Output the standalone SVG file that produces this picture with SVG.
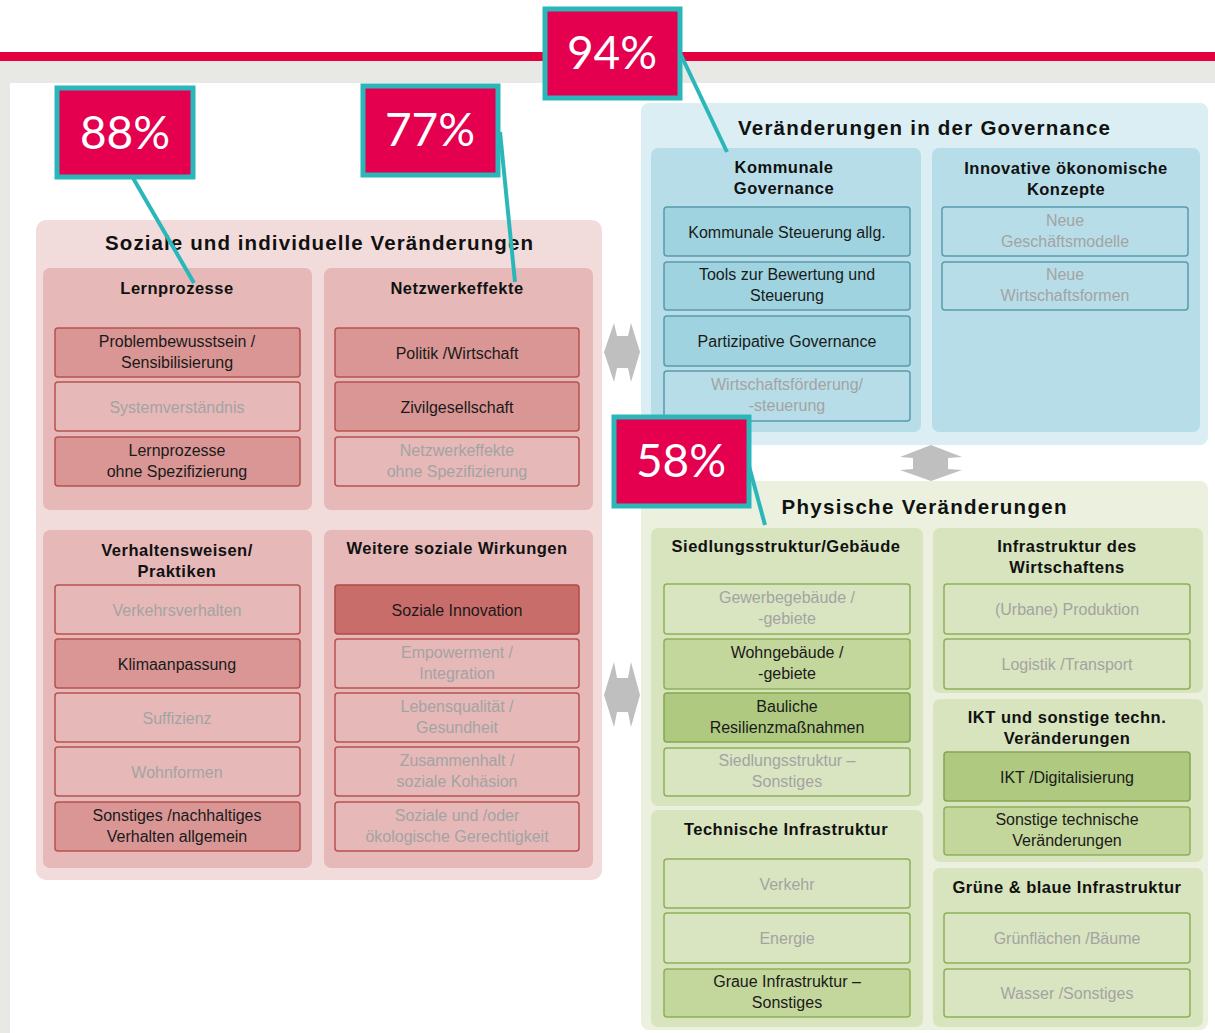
<svg xmlns="http://www.w3.org/2000/svg" width="1215" height="1033" viewBox="0 0 1215 1033">
<defs>
<style>
text{font-family:"Liberation Sans",Arial,sans-serif;text-anchor:middle}
.t1{font-size:20.5px;font-weight:bold;fill:#111}
.t2{font-size:16.5px;font-weight:bold;fill:#111;letter-spacing:0.5px}
.bt{font-size:16px;fill:#1a1a1a}
.ft{font-size:16px;fill:#a3a3a3}
.pct{font-family:Lato,"Open Sans",sans-serif;font-size:46px;fill:#fff}
.rOut{fill:#f2dcdb}
.rSub{fill:#e6b9b8}
.rF{fill:#e6b9b8;stroke:#b8524f;stroke-width:1.5}
.rM{fill:#d99694;stroke:#b8524f;stroke-width:1.5}
.rD{fill:#c96d6a;stroke:#b04a47;stroke-width:1.5}
.bOut{fill:#daeef3}
.bSub{fill:#b7dee8}
.bF{fill:#b7dee8;stroke:#5a9aad;stroke-width:1.5}
.bM{fill:#9fd3df;stroke:#5a9aad;stroke-width:1.5}
.gOut{fill:#ebf1de}
.gSub{fill:#d7e4bd}
.gF{fill:#d9e5c0;stroke:#8fb05a;stroke-width:1.5}
.gM{fill:#c3d69b;stroke:#8fb05a;stroke-width:1.5}
.gD{fill:#afca80;stroke:#84a650;stroke-width:1.5}
.call{fill:#e4004f;stroke:#2bb7ba;stroke-width:5}
.cl{stroke:#2bb7ba;stroke-width:4;fill:none}
.arr{fill:#bfbfbf}
</style>
</defs>
<rect x="0" y="0" width="1215" height="1033" fill="#ffffff"/>
<rect x="0" y="52" width="1215" height="9" fill="#e2003f"/>
<rect x="0" y="61" width="1215" height="22" fill="#e8e8e4"/>
<rect x="0" y="61" width="10" height="972" fill="#e8e8e4"/>

<g id="panel-sozial">
<rect class="rOut" x="36" y="220" width="566" height="660" rx="10"/>
<text class="t1" x="319" y="250" textLength="428" lengthAdjust="spacing">Soziale und individuelle Veränderungen</text>
</g>
<g id="panel-governance">
<rect class="bOut" x="641" y="103" width="567" height="342" rx="8"/>
<text class="t1" x="924" y="135" textLength="372" lengthAdjust="spacing">Veränderungen in der Governance</text>
</g>
<g id="panel-physisch">
<rect class="gOut" x="641" y="481" width="567" height="549" rx="8"/>
<text class="t1" x="924" y="514" textLength="285" lengthAdjust="spacing">Physische Veränderungen</text>
</g>

<g id="sub-lernprozesse">
<rect class="rSub" x="43" y="268" width="269" height="242" rx="7"/>
<text class="t2" x="177" y="294">Lernprozesse</text>
<rect class="rM" x="55" y="328" width="245" height="49" rx="3"/>
<text class="bt" x="177" y="346.5">Problembewusstsein /</text>
<text class="bt" x="177" y="367.5">Sensibilisierung</text>
<rect class="rF" x="55" y="382" width="245" height="49" rx="3"/>
<text class="ft" x="177" y="412.5">Systemverständnis</text>
<rect class="rM" x="55" y="437" width="245" height="49" rx="3"/>
<text class="bt" x="177" y="455.5">Lernprozesse</text>
<text class="bt" x="177" y="476.5">ohne Spezifizierung</text>
</g>

<g id="sub-netzwerkeffekte">
<rect class="rSub" x="324" y="268" width="269" height="242" rx="7"/>
<text class="t2" x="457" y="294">Netzwerkeffekte</text>
<rect class="rM" x="335" y="328" width="244" height="49" rx="3"/>
<text class="bt" x="457" y="358.5">Politik /Wirtschaft</text>
<rect class="rM" x="335" y="382" width="244" height="49" rx="3"/>
<text class="bt" x="457" y="412.5">Zivilgesellschaft</text>
<rect class="rF" x="335" y="437" width="244" height="49" rx="3"/>
<text class="ft" x="457" y="455.5">Netzwerkeffekte</text>
<text class="ft" x="457" y="476.5">ohne Spezifizierung</text>
</g>

<g id="sub-verhalten">
<rect class="rSub" x="43" y="530" width="269" height="338" rx="7"/>
<text class="t2" x="177" y="556">Verhaltensweisen/</text>
<text class="t2" x="177" y="577">Praktiken</text>
<rect class="rF" x="55" y="585" width="245" height="49" rx="3"/>
<text class="ft" x="177" y="615.5">Verkehrsverhalten</text>
<rect class="rM" x="55" y="639" width="245" height="49" rx="3"/>
<text class="bt" x="177" y="669.5">Klimaanpassung</text>
<rect class="rF" x="55" y="693" width="245" height="49" rx="3"/>
<text class="ft" x="177" y="723.5">Suffizienz</text>
<rect class="rF" x="55" y="747" width="245" height="49" rx="3"/>
<text class="ft" x="177" y="777.5">Wohnformen</text>
<rect class="rM" x="55" y="802" width="245" height="49" rx="3"/>
<text class="bt" x="177" y="820.5">Sonstiges /nachhaltiges</text>
<text class="bt" x="177" y="841.5">Verhalten allgemein</text>
</g>

<g id="sub-weitere">
<rect class="rSub" x="324" y="530" width="269" height="338" rx="7"/>
<text class="t2" x="457" y="554">Weitere soziale Wirkungen</text>
<rect class="rD" x="335" y="585" width="244" height="49" rx="3"/>
<text class="bt" x="457" y="615.5">Soziale Innovation</text>
<rect class="rF" x="335" y="639" width="244" height="49" rx="3"/>
<text class="ft" x="457" y="657.5">Empowerment /</text>
<text class="ft" x="457" y="678.5">Integration</text>
<rect class="rF" x="335" y="693" width="244" height="49" rx="3"/>
<text class="ft" x="457" y="711.5">Lebensqualität /</text>
<text class="ft" x="457" y="732.5">Gesundheit</text>
<rect class="rF" x="335" y="747" width="244" height="49" rx="3"/>
<text class="ft" x="457" y="765.5">Zusammenhalt /</text>
<text class="ft" x="457" y="786.5">soziale Kohäsion</text>
<rect class="rF" x="335" y="802" width="244" height="49" rx="3"/>
<text class="ft" x="457" y="820.5">Soziale und /oder</text>
<text class="ft" x="457" y="841.5">ökologische Gerechtigkeit</text>
</g>

<g id="sub-kommunale">
<rect class="bSub" x="651" y="148" width="270" height="284" rx="7"/>
<text class="t2" x="784" y="173">Kommunale</text>
<text class="t2" x="784" y="194">Governance</text>
<rect class="bM" x="664" y="207" width="246" height="49" rx="3"/>
<text class="bt" x="787" y="237.5">Kommunale Steuerung allg.</text>
<rect class="bM" x="664" y="262" width="246" height="48" rx="3"/>
<text class="bt" x="787" y="280">Tools zur Bewertung und</text>
<text class="bt" x="787" y="301">Steuerung</text>
<rect class="bM" x="664" y="316" width="246" height="50" rx="3"/>
<text class="bt" x="787" y="347">Partizipative Governance</text>
<rect class="bF" x="664" y="371" width="246" height="50" rx="3"/>
<text class="ft" x="787" y="390">Wirtschaftsförderung/</text>
<text class="ft" x="787" y="411">-steuerung</text>
</g>

<g id="sub-innovative">
<rect class="bSub" x="932" y="148" width="268" height="284" rx="7"/>
<text class="t2" x="1066" y="174">Innovative ökonomische</text>
<text class="t2" x="1066" y="195">Konzepte</text>
<rect class="bF" x="942" y="207" width="246" height="49" rx="3"/>
<text class="ft" x="1065" y="225.5">Neue</text>
<text class="ft" x="1065" y="246.5">Geschäftsmodelle</text>
<rect class="bF" x="942" y="262" width="246" height="48" rx="3"/>
<text class="ft" x="1065" y="280">Neue</text>
<text class="ft" x="1065" y="301">Wirtschaftsformen</text>
</g>

<g id="sub-siedlung">
<rect class="gSub" x="651" y="528" width="272" height="278" rx="7"/>
<text class="t2" x="786" y="552">Siedlungsstruktur/Gebäude</text>
<rect class="gF" x="664" y="584" width="246" height="50" rx="3"/>
<text class="ft" x="787" y="603">Gewerbegebäude /</text>
<text class="ft" x="787" y="624">-gebiete</text>
<rect class="gM" x="664" y="639" width="246" height="50" rx="3"/>
<text class="bt" x="787" y="658">Wohngebäude /</text>
<text class="bt" x="787" y="679">-gebiete</text>
<rect class="gD" x="664" y="693" width="246" height="49" rx="3"/>
<text class="bt" x="787" y="711.5">Bauliche</text>
<text class="bt" x="787" y="732.5">Resilienzmaßnahmen</text>
<rect class="gF" x="664" y="748" width="246" height="48" rx="3"/>
<text class="ft" x="787" y="766">Siedlungsstruktur –</text>
<text class="ft" x="787" y="787">Sonstiges</text>
</g>

<g id="sub-technische">
<rect class="gSub" x="651" y="810" width="272" height="217" rx="7"/>
<text class="t2" x="786" y="835">Technische Infrastruktur</text>
<rect class="gF" x="664" y="859" width="246" height="49" rx="3"/>
<text class="ft" x="787" y="889.5">Verkehr</text>
<rect class="gF" x="664" y="913" width="246" height="50" rx="3"/>
<text class="ft" x="787" y="944">Energie</text>
<rect class="gM" x="664" y="969" width="246" height="48" rx="3"/>
<text class="bt" x="787" y="987">Graue Infrastruktur –</text>
<text class="bt" x="787" y="1008">Sonstiges</text>
</g>

<g id="sub-infra-wirtschaft">
<rect class="gSub" x="933" y="528" width="270" height="165" rx="7"/>
<text class="t2" x="1067" y="552">Infrastruktur des</text>
<text class="t2" x="1067" y="573">Wirtschaftens</text>
<rect class="gF" x="944" y="584" width="246" height="50" rx="3"/>
<text class="ft" x="1067" y="615">(Urbane) Produktion</text>
<rect class="gF" x="944" y="639" width="246" height="50" rx="3"/>
<text class="ft" x="1067" y="670">Logistik /Transport</text>
</g>

<g id="sub-ikt">
<rect class="gSub" x="933" y="699" width="270" height="163" rx="7"/>
<text class="t2" x="1067" y="723">IKT und sonstige techn.</text>
<text class="t2" x="1067" y="744">Veränderungen</text>
<rect class="gD" x="944" y="752" width="246" height="49" rx="3"/>
<text class="bt" x="1067" y="782.5">IKT /Digitalisierung</text>
<rect class="gM" x="944" y="807" width="246" height="48" rx="3"/>
<text class="bt" x="1067" y="825">Sonstige technische</text>
<text class="bt" x="1067" y="846">Veränderungen</text>
</g>

<g id="sub-gruen">
<rect class="gSub" x="933" y="868" width="270" height="159" rx="7"/>
<text class="t2" x="1067" y="893">Grüne &amp; blaue Infrastruktur</text>
<rect class="gF" x="944" y="913" width="246" height="50" rx="3"/>
<text class="ft" x="1067" y="944">Grünflächen /Bäume</text>
<rect class="gF" x="944" y="969" width="246" height="48" rx="3"/>
<text class="ft" x="1067" y="999">Wasser /Sonstiges</text>
</g>

<g id="connectors">
<polygon class="arr" points="604,352 614,323 617,336 628,336 631,323 640,352 631,382 628,368 617,368 614,382"/>
<polygon class="arr" points="604,695 614,662 617,678 628,678 631,662 640,695 631,727 628,712 617,712 614,727"/>
<polygon class="arr" points="931,445 962,457 948,458 948,469 962,470 931,481 900,470 913,469 913,458 900,457"/>
<line class="cl" x1="133" y1="178" x2="194" y2="283"/>
<line class="cl" x1="500" y1="132" x2="515" y2="282"/>
<line class="cl" x1="681" y1="55" x2="727" y2="152"/>
<line class="cl" x1="749" y1="466" x2="765" y2="525"/>
</g>

<g id="callout-88">
<rect class="call" x="57" y="88" width="136" height="89"/>
<text class="pct" x="125" y="149">88%</text>
</g>
<g id="callout-77">
<rect class="call" x="363" y="86" width="135" height="89"/>
<text class="pct" x="430" y="146">77%</text>
</g>
<g id="callout-94">
<rect class="call" x="545" y="9" width="135" height="89"/>
<text class="pct" x="612" y="69">94%</text>
</g>
<g id="callout-58">
<rect class="call" x="614" y="417" width="135" height="89"/>
<text class="pct" x="681" y="477">58%</text>
</g>
</svg>
